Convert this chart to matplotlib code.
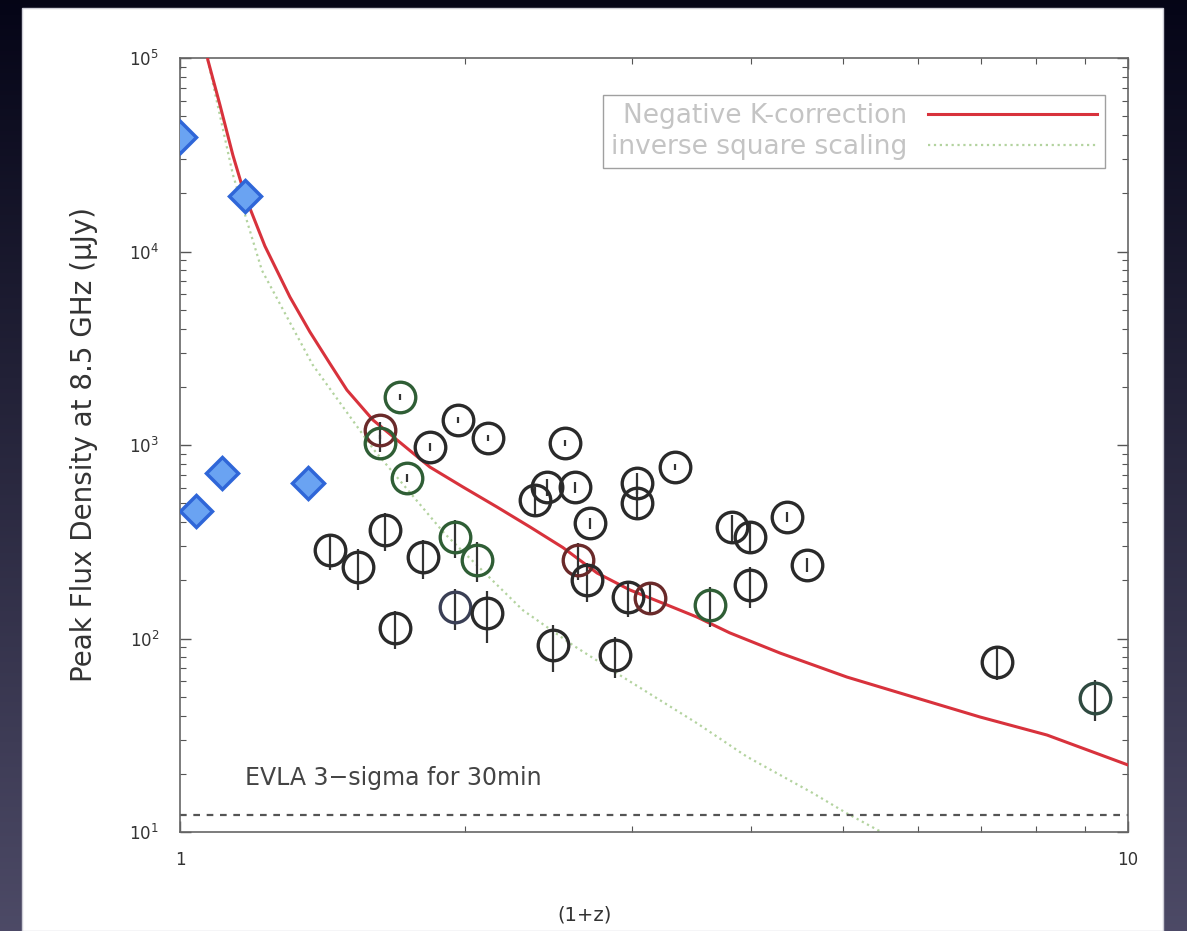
import numpy as np
import matplotlib.pyplot as plt
from matplotlib.patches import Rectangle
from matplotlib.ticker import LogLocator, NullFormatter, FixedLocator, FixedFormatter

plt.rcParams['font.family'] = ['DejaVu Sans']

# blue diamonds (1+z, flux in uJy)
dia_x = [1.00, 1.171, 1.040, 1.107, 1.365]
dia_y = [39100, 19400, 456, 716, 637]

# circles with error bars
circ_x = [1.626, 1.626, 1.706, 1.736, 1.835, 1.965, 2.113, 2.547, 2.368, 2.438,
          2.610, 2.707, 3.034, 3.034, 3.327, 3.822, 3.991, 4.368, 4.585, 1.440,
          1.541, 1.645, 1.804, 1.950, 2.058, 1.950, 2.108, 1.686, 2.475, 2.876,
          2.630, 2.688, 2.969, 3.132, 3.624, 3.991, 7.275, 9.231]
circ_y = [1197, 1024, 1771, 675, 977, 1346, 1086, 1024, 520, 607,
          607, 395, 637, 501, 769, 377, 335, 425, 240, 287,
          234, 364, 264, 335, 255, 146, 135, 113, 92.5, 82.2,
          255, 200, 164, 162, 149, 189, 75.7, 49.3]
circ_err = [120, 100, 60, 30, 50, 50, 40, 40, 90, 60,
            40, 25, 80, 90, 25, 60, 60, 25, 20, 60,
            55, 80, 60, 75, 60, 35, 40, 25, 25, 20,
            55, 45, 35, 30, 35, 45, 15, 12]
circ_col = ['#6a2a2a', '#2f5e35', '#2f5e35', '#2f5e35', '#2a2a2a', '#2a2a2a', '#2a2a2a', '#2a2a2a', '#2a2a2a', '#2a2a2a',
            '#2a2a2a', '#2a2a2a', '#2a2a2a', '#2a2a2a', '#2a2a2a', '#2a2a2a', '#2a2a2a', '#2a2a2a', '#2a2a2a', '#2a2a2a',
            '#2a2a2a', '#2a2a2a', '#2a2a2a', '#2f5e35', '#2f5e35', '#3a3f55', '#2a2a2a', '#2a2a2a', '#2a2a2a', '#2a2a2a',
            '#6a2a2a', '#2a2a2a', '#2a2a2a', '#6a2a2a', '#2f5e35', '#2a2a2a', '#2a2a2a', '#2f4a40']

# negative K-correction curve
kc_x = [1.062, 1.070, 1.102, 1.137, 1.171, 1.229, 1.306, 1.371, 1.440, 1.500,
        1.598, 1.694, 1.835, 1.988, 2.160, 2.340, 2.535, 2.754, 2.984, 3.233,
        3.511, 3.80, 4.295, 5.053, 5.932, 6.98, 8.215, 10.0]
kc_y = [130000, 97700, 57100, 31500, 19400, 10670, 5820, 3840, 2625, 1923,
        1346, 1062, 769, 607, 478, 377, 295, 218, 178, 152,
        129, 107, 84.1, 63.2, 49.9, 39.3, 31.7, 22.2]

# inverse square scaling curve
inv_x = [1.06, 1.137, 1.22, 1.38, 1.60, 1.90, 2.30, 2.60, 2.932, 3.51, 3.963, 4.65, 5.05, 5.6]
inv_y = [120000, 25000, 8000, 2600, 950, 350, 140, 92, 63.2, 36.5, 24.5, 15.9, 12.5, 9.5]

evla_limit = 12.2

fig = plt.figure(figsize=(11.87, 9.31), dpi=100)

# dark slide background with white panel
bg = fig.add_axes([0, 0, 1, 1], zorder=-10)
grad = np.linspace(0, 1, 256).reshape(-1, 1)
top = np.array([0.02, 0.02, 0.09])
bot = np.array([0.30, 0.29, 0.40])
img = top + (bot - top) * grad[..., None]
bg.imshow(img, aspect='auto', extent=[0, 1, 0, 1], origin='upper')
bg.add_patch(Rectangle((22 / 1187, 0), (1163 - 22) / 1187, 1 - 8 / 931,
                       facecolor='white', edgecolor='#cfcfd8', lw=1))
bg.set_xlim(0, 1)
bg.set_ylim(0, 1)
bg.axis('off')

ax = fig.add_axes([180 / 1187, 1 - 832 / 931, (1128 - 180) / 1187, (832 - 58) / 931])
ax.set_xscale('log')
ax.set_yscale('log')

ax.plot(kc_x, kc_y, color='#d8323c', lw=2.2, label='Negative K-correction', zorder=3)
ax.plot(inv_x, inv_y, color='#b3d39f', lw=1.6, ls=':', label='inverse square scaling', zorder=2)
ax.axhline(evla_limit, color='#555555', lw=1.6, ls=(0, (3, 3)), zorder=2)

for x, y, e, c in zip(circ_x, circ_y, circ_err, circ_col):
    ax.errorbar(x, y, yerr=e, fmt='o', ms=22, mfc='none', mec=c, mew=2.4,
                ecolor='#333333', elinewidth=1.6, capsize=0, zorder=4)

ax.plot(dia_x, dia_y, 'D', ms=16, mfc='#6aa3f2', mec='#2f66d8', mew=2.5,
        ls='none', zorder=5)

ax.text(1.171, 17.5, 'EVLA 3\u2212sigma for 30min', fontsize=17, color='#444444')

ax.set_xlim(1, 10)
ax.set_ylim(10, 1e5)
ax.xaxis.set_major_locator(FixedLocator([1, 10]))
ax.xaxis.set_major_formatter(FixedFormatter(['1', '10']))
ax.xaxis.set_minor_locator(FixedLocator([2, 3, 4, 5, 6, 7, 8, 9]))
ax.xaxis.set_minor_formatter(NullFormatter())
ax.yaxis.set_major_locator(LogLocator(base=10, numticks=10))
ax.yaxis.set_minor_locator(LogLocator(base=10, subs=np.arange(2, 10), numticks=10))
ax.yaxis.set_minor_formatter(NullFormatter())
ax.tick_params(which='both', direction='in', top=True, right=True, colors='#555555',
               labelcolor='#333333', labelsize=12)
ax.tick_params(which='major', length=8, width=1)
ax.tick_params(which='minor', length=4, width=0.8)
ax.tick_params(axis='y', pad=15)
ax.tick_params(axis='x', pad=14)
for s in ax.spines.values():
    s.set_color('#666666')
    s.set_linewidth(1.2)

ax.set_xlabel('(1+z)', fontsize=14, color='#333333')
ax.xaxis.set_label_coords((585 - 180) / 948, -0.095)
ax.set_ylabel('Peak Flux Density at 8.5 GHz (\u03bcJy)', fontsize=20, color='#333333')
ax.yaxis.set_label_coords(-0.087, 0.5)

leg = ax.legend(loc='upper right', bbox_to_anchor=(0.976, 0.952), borderaxespad=0,
                markerfirst=False, fontsize=19, handlelength=6.4, frameon=True,
                fancybox=False, edgecolor='#888888', borderpad=0.3, labelspacing=0.2)
for t in leg.get_texts():
    t.set_color('#c4c4c4')

fig.savefig('out.png', dpi=100)
